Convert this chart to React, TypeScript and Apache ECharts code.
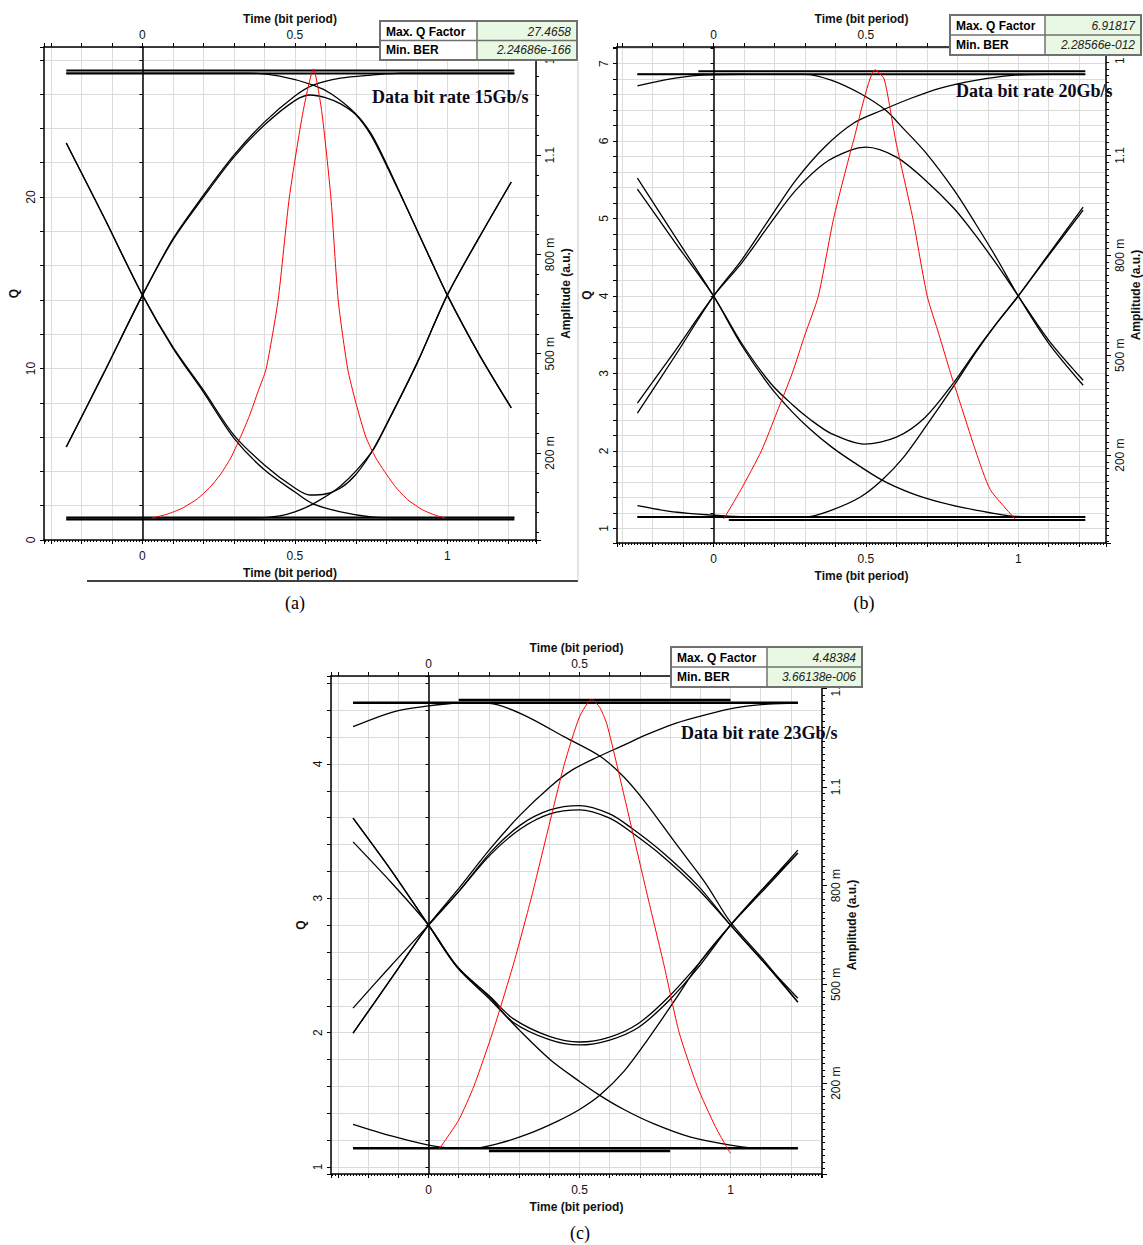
import React, { useEffect, useRef } from "react";
import * as echarts from "echarts";

// ---------------- Texts ----------------
const captions = ["(a)", "(b)", "(c)"];
const rateLabels = ["Data bit rate 15Gb/s", "Data bit rate 20Gb/s", "Data bit rate 23Gb/s"];
const maxQFactor = ["27.4658", "6.91817", "4.48384"];
const minBER = ["2.24686e-166", "2.28566e-012", "3.66138e-006"];
const timeAxisName = "Time (bit period)";
const qAxisName = "Q";
const ampAxisName = "Amplitude (a.u.)";
const timeTickLabelsBottom = [0, 0.5, 1];
const timeTickLabelsTop = [0, 0.5]; // "1" lies under the result table
const ampLabelBase = 0.2; // first labelled amplitude (200 m)
const ampLabelStep = 0.3; // 200 m, 500 m, 800 m, 1.1, 1.4

// ---------------- Panel (a): 15 Gb/s ----------------
const qA_time = [0.03, 0.08, 0.13, 0.18, 0.22, 0.255, 0.29, 0.319, 0.35, 0.38, 0.406, 0.445, 0.482, 0.527, 0.561, 0.588, 0.618, 0.642, 0.673, 0.7, 0.733, 0.765, 0.794, 0.83, 0.87, 0.92, 0.96, 0.994];
const qA_value = [1.28, 1.5, 1.85, 2.4, 3.05, 3.8, 4.8, 5.9, 7.2, 8.7, 10.0, 14.0, 20.0, 25.0, 27.47, 25.0, 20.0, 14.0, 10.0, 8.0, 6.0, 4.8, 4.0, 3.1, 2.35, 1.75, 1.45, 1.28];

const eyeA_111a = [[-0.25, 1.356], [1.22, 1.356]];
const eyeA_111b = [[-0.25, 1.347], [1.22, 1.347]];
const eyeA_000a = [[-0.25, 0.005], [1.22, 0.005]];
const eyeA_000b = [[-0.25, -0.001], [1.22, -0.001]];
const eyeA_100 = [[-0.25, 1.137], [-0.125, 0.91], [0, 0.677], [0.1, 0.517], [0.2, 0.384], [0.3, 0.245], [0.4, 0.149], [0.5, 0.082], [0.56, 0.046], [0.65, 0.022], [0.75, 0.007], [0.85, 0.004], [1.22, 0.004]];
const eyeA_101 = [[-0.25, 1.137], [-0.125, 0.91], [0, 0.677], [0.1, 0.52], [0.2, 0.39], [0.3, 0.254], [0.4, 0.164], [0.5, 0.094], [0.55, 0.073], [0.6, 0.076], [0.65, 0.094], [0.7, 0.135], [0.75, 0.2], [0.8, 0.285], [0.9, 0.47], [1.0, 0.677], [1.1, 0.844], [1.21, 1.019]];
const eyeA_001 = [[-0.25, 0.004], [0.38, 0.004], [0.45, 0.01], [0.5, 0.022], [0.56, 0.046], [0.65, 0.1], [0.75, 0.2], [0.8, 0.285], [0.9, 0.47], [1.0, 0.677], [1.1, 0.844], [1.21, 1.019]];
const eyeA_010 = [[-0.25, 0.218], [-0.125, 0.445], [0, 0.677], [0.1, 0.844], [0.2, 0.973], [0.3, 1.094], [0.4, 1.191], [0.5, 1.265], [0.55, 1.282], [0.6, 1.274], [0.65, 1.255], [0.7, 1.222], [0.75, 1.16], [0.8, 1.07], [0.87, 0.935], [0.94, 0.795], [1.0, 0.677], [1.1, 0.505], [1.21, 0.336]];
const eyeA_011 = [[-0.25, 0.218], [-0.125, 0.445], [0, 0.677], [0.1, 0.847], [0.2, 0.979], [0.3, 1.1], [0.4, 1.2], [0.5, 1.279], [0.56, 1.312], [0.65, 1.333], [0.75, 1.342], [0.85, 1.348], [1.22, 1.348]];
const eyeA_110 = [[-0.25, 1.348], [0.35, 1.348], [0.45, 1.339], [0.56, 1.312], [0.62, 1.285], [0.7, 1.225], [0.75, 1.165], [0.8, 1.075], [0.87, 0.935], [0.94, 0.795], [1.0, 0.677], [1.1, 0.505], [1.21, 0.336]];

// ---------------- Panel (b): 20 Gb/s ----------------
const qB_time = [0.033, 0.09, 0.157, 0.208, 0.258, 0.3, 0.344, 0.394, 0.459, 0.53, 0.56, 0.598, 0.654, 0.701, 0.74, 0.778, 0.819, 0.86, 0.908, 0.99];
const qB_value = [1.12, 1.5, 2.0, 2.5, 3.0, 3.5, 4.0, 5.0, 6.0, 6.92, 6.8, 6.0, 5.0, 4.0, 3.5, 3.0, 2.5, 2.0, 1.5, 1.12];

const eyeB_111a = [[-0.25, 1.344], [1.22, 1.344]];
const eyeB_111b = [[-0.05, 1.353], [1.22, 1.353]];
const eyeB_x11 = [[-0.25, 1.309], [-0.15, 1.329], [-0.05, 1.341], [0.1, 1.344]];
const eyeB_000a = [[-0.25, 0.014], [1.22, 0.014]];
const eyeB_000b = [[0.05, 0.005], [1.22, 0.005]];
const eyeB_x00 = [[-0.25, 0.048], [-0.15, 0.032], [-0.05, 0.023], [0.05, 0.017], [0.15, 0.014]];
const eyeB_100 = [[-0.25, 1.032], [-0.125, 0.855], [0, 0.678], [0.092, 0.53], [0.187, 0.404], [0.258, 0.33], [0.317, 0.278], [0.388, 0.224], [0.459, 0.179], [0.553, 0.125], [0.648, 0.086], [0.742, 0.059], [0.86, 0.035], [0.98, 0.017], [1.1, 0.014], [1.22, 0.014]];
const eyeB_101 = [[-0.25, 0.999], [-0.125, 0.837], [0, 0.678], [0.092, 0.536], [0.187, 0.416], [0.258, 0.352], [0.317, 0.307], [0.388, 0.264], [0.494, 0.233], [0.6, 0.254], [0.695, 0.314], [0.79, 0.42], [0.86, 0.512], [0.93, 0.597], [1.0, 0.678], [1.1, 0.804], [1.213, 0.945]];
const eyeB_001 = [[-0.25, 0.014], [0.3, 0.014], [0.388, 0.035], [0.482, 0.074], [0.553, 0.125], [0.624, 0.194], [0.695, 0.284], [0.79, 0.41], [0.86, 0.508], [0.93, 0.597], [1.0, 0.678], [1.1, 0.8], [1.213, 0.936]];
const eyeB_010 = [[-0.25, 0.356], [-0.125, 0.515], [0, 0.678], [0.092, 0.777], [0.187, 0.897], [0.27, 0.996], [0.364, 1.077], [0.45, 1.116], [0.5, 1.125], [0.6, 1.095], [0.695, 1.026], [0.79, 0.94], [0.86, 0.86], [0.93, 0.772], [1.0, 0.678], [1.1, 0.545], [1.213, 0.425]];
const eyeB_011 = [[-0.25, 0.326], [-0.125, 0.5], [0, 0.678], [0.092, 0.786], [0.187, 0.915], [0.27, 1.026], [0.364, 1.125], [0.459, 1.197], [0.553, 1.236], [0.648, 1.272], [0.742, 1.302], [0.86, 1.326], [0.98, 1.341], [1.1, 1.344], [1.22, 1.344]];
const eyeB_110 = [[-0.25, 1.344], [0.3, 1.344], [0.388, 1.326], [0.48, 1.287], [0.565, 1.236], [0.624, 1.18], [0.695, 1.11], [0.79, 0.995], [0.86, 0.895], [0.93, 0.79], [1.0, 0.678], [1.1, 0.536], [1.213, 0.41]];

// ---------------- Panel (c): 23 Gb/s ----------------
const qC_time = [0.034, 0.1, 0.15, 0.212, 0.28, 0.34, 0.4, 0.45, 0.5, 0.54, 0.567, 0.59, 0.623, 0.675, 0.727, 0.78, 0.83, 0.89, 0.95, 1.0];
const qC_value = [1.13, 1.35, 1.6, 2.0, 2.5, 3.0, 3.55, 4.0, 4.35, 4.48, 4.42, 4.3, 4.0, 3.5, 3.0, 2.5, 2.0, 1.6, 1.3, 1.1];

const eyeC_111a = [[-0.25, 1.356], [1.223, 1.356]];
const eyeC_111b = [[0.1, 1.364], [1.0, 1.364]];
const eyeC_x11 = [[-0.25, 1.283], [-0.113, 1.329], [0, 1.346], [0.1, 1.355], [0.2, 1.356]];
const eyeC_000a = [[-0.25, 0.002], [1.223, 0.002]];
const eyeC_000b = [[0.2, -0.006], [0.8, -0.006]];
const eyeC_x00 = [[-0.25, 0.075], [-0.12, 0.039], [0, 0.012], [0.1, 0.002], [0.2, 0.002]];
const eyeC_100 = [[-0.25, 1.005], [-0.125, 0.848], [0, 0.68], [0.096, 0.55], [0.206, 0.452], [0.304, 0.358], [0.402, 0.272], [0.5, 0.205], [0.567, 0.163], [0.647, 0.12], [0.745, 0.077], [0.868, 0.036], [1.0, 0.012], [1.1, 0.002], [1.223, 0.002]];
const eyeC_101a = [[-0.25, 1.005], [-0.125, 0.848], [0, 0.68], [0.096, 0.553], [0.206, 0.461], [0.28, 0.396], [0.4, 0.342], [0.5, 0.325], [0.6, 0.34], [0.696, 0.382], [0.794, 0.461], [0.892, 0.56], [1.0, 0.68], [1.11, 0.793], [1.223, 0.908]];
const eyeC_101b = [[-0.25, 0.933], [-0.125, 0.811], [0, 0.68], [0.096, 0.553], [0.206, 0.458], [0.28, 0.385], [0.4, 0.332], [0.5, 0.316], [0.6, 0.331], [0.696, 0.37], [0.794, 0.449], [0.892, 0.55], [1.0, 0.68], [1.11, 0.793], [1.223, 0.899]];
const eyeC_001 = [[-0.25, 0.002], [0.15, 0.002], [0.23, 0.016], [0.328, 0.045], [0.426, 0.084], [0.5, 0.12], [0.567, 0.163], [0.647, 0.236], [0.72, 0.325], [0.818, 0.455], [0.904, 0.574], [1.0, 0.68], [1.11, 0.787], [1.223, 0.899]];
const eyeC_010a = [[-0.25, 0.428], [-0.125, 0.556], [0, 0.68], [0.096, 0.778], [0.206, 0.902], [0.304, 0.984], [0.402, 1.03], [0.5, 1.043], [0.6, 1.018], [0.672, 0.975], [0.77, 0.905], [0.892, 0.8], [1.0, 0.68], [1.11, 0.568], [1.223, 0.458]];
const eyeC_010b = [[-0.25, 0.352], [-0.125, 0.516], [0, 0.68], [0.096, 0.778], [0.206, 0.895], [0.304, 0.972], [0.402, 1.018], [0.5, 1.03], [0.6, 1.005], [0.672, 0.962], [0.77, 0.893], [0.892, 0.79], [1.0, 0.68], [1.11, 0.568], [1.223, 0.446]];
const eyeC_011 = [[-0.25, 0.352], [-0.125, 0.516], [0, 0.68], [0.096, 0.787], [0.206, 0.914], [0.304, 1.015], [0.402, 1.1], [0.475, 1.151], [0.56, 1.191], [0.647, 1.227], [0.72, 1.258], [0.82, 1.294], [0.917, 1.319], [1.015, 1.34], [1.125, 1.352], [1.223, 1.355]];
const eyeC_110 = [[-0.25, 1.356], [0.15, 1.356], [0.23, 1.349], [0.328, 1.313], [0.45, 1.252], [0.567, 1.194], [0.647, 1.13], [0.72, 1.051], [0.818, 0.929], [0.917, 0.808], [1.0, 0.689], [1.11, 0.574], [1.223, 0.446]];

const qTimes = [qA_time, qB_time, qC_time];
const qValues = [qA_value, qB_value, qC_value];
const eyeRails = [
  [eyeA_111a, eyeA_111b, eyeA_000a, eyeA_000b],
  [eyeB_111a, eyeB_111b, eyeB_000a, eyeB_000b],
  [eyeC_111a, eyeC_111b, eyeC_000a, eyeC_000b],
];
const eyeTraces = [
  [eyeA_100, eyeA_101, eyeA_001, eyeA_010, eyeA_011, eyeA_110],
  [eyeB_x11, eyeB_x00, eyeB_100, eyeB_101, eyeB_001, eyeB_010, eyeB_011, eyeB_110],
  [eyeC_x11, eyeC_x00, eyeC_100, eyeC_101a, eyeC_101b, eyeC_001, eyeC_010a, eyeC_010b, eyeC_011, eyeC_110],
];

// ---------------- Layout (positions / axis extents) ----------------
const layout = [
  { left: 44, top: 47, right: 536, bottom: 540, tMin: -0.323, tMax: 1.291, qMin: 0, qMax: 28.75, qStep: 2, qLabelStep: 10, ampMin: -0.063, ampMax: 1.427, ampMinor: 5, railWidth: 2,
    table: { x: 380, y: 21, w: 197, h: 39, col: 477 }, title: { x: 372, y: 97 }, caption: { x: 295, y: 603 } },
  { left: 617, top: 47, right: 1106, bottom: 543, tMin: -0.317, tMax: 1.288, qMin: 0.81, qMax: 7.214, qStep: 0.2, qLabelStep: 1, ampMin: -0.064, ampMax: 1.426, ampMinor: 15, railWidth: 2,
    table: { x: 950, y: 15, w: 191, h: 40, col: 1045 }, title: { x: 956, y: 91 }, caption: { x: 864, y: 603 } },
  { left: 331, top: 676, right: 822, bottom: 1174, tMin: -0.323, tMax: 1.303, qMin: 0.948, qMax: 4.654, qStep: 0.2, qLabelStep: 1, ampMin: -0.076, ampMax: 1.437, ampMinor: 15, railWidth: 2.5,
    table: { x: 671, y: 647, w: 191, h: 40, col: 767 }, title: { x: 681, y: 733 }, caption: { x: 580, y: 1233 } },
];

const SANS = "'Liberation Sans', Arial, sans-serif";
const SERIF = "'Liberation Serif', 'Times New Roman', serif";
const GRID_COLOR = "#dcdcdc";

const isMultiple = (v: number, step: number) => Math.abs(v / step - Math.round(v / step)) < 1e-6;

const timeLabel = (marks: number[]) => (v: number) => {
  for (const m of marks) if (Math.abs(v - m) < 1e-6) return String(m);
  return "";
};

function ampLabel(u: number) {
  if (!isMultiple(u, ampLabelStep)) return "";
  const a = Math.round((u + ampLabelBase) * 10) / 10;
  return a < 1 ? `${Math.round(a * 1000)} m` : String(a);
}

function buildOption() {
  const grid: any[] = [];
  const xAxis: any[] = [];
  const yAxis: any[] = [];
  const series: any[] = [];
  const graphic: any[] = [];

  const labelStyle = { color: "#111", fontSize: 12, fontFamily: SANS };
  const nameStyle = { color: "#111", fontSize: 12, fontWeight: "bold", fontFamily: SANS };

  layout.forEach((p, g) => {
    grid.push({ left: p.left, top: p.top, width: p.right - p.left, height: p.bottom - p.top, containLabel: false, outerBoundsMode: "none" });

    const xCommon = {
      type: "value", gridIndex: g, min: p.tMin, max: p.tMax, minInterval: 0.1, maxInterval: 0.1,
      axisLine: { show: true, onZero: false, lineStyle: { color: "#000", width: 1.5 } },
      axisTick: { show: true, length: 4, lineStyle: { color: "#000" } },
      name: timeAxisName, nameLocation: "middle", nameTextStyle: nameStyle,
    };
    xAxis.push({ ...xCommon, position: "bottom",
      axisLabel: { show: true, formatter: timeLabel(timeTickLabelsBottom), ...labelStyle, hideOverlap: false, margin: 10 }, nameGap: 27,
      minorTick: { show: true, splitNumber: 10, length: 2, lineStyle: { color: "#000" } },
      splitLine: { show: true, lineStyle: { color: GRID_COLOR, width: 1 } } });
    xAxis.push({ ...xCommon, position: "top",
      axisLabel: { show: true, formatter: timeLabel(timeTickLabelsTop), ...labelStyle, hideOverlap: false, margin: 6 }, nameGap: 22,
      splitLine: { show: false } });

    // Q axis (left frame)
    yAxis.push({
      type: "value", gridIndex: g, position: "left", min: p.qMin, max: p.qMax, minInterval: p.qStep, maxInterval: p.qStep,
      axisLine: { show: true, onZero: false, lineStyle: { color: "#000", width: 1.5 } },
      axisTick: { show: true, length: 4, lineStyle: { color: "#000" } },
      axisLabel: { show: true, rotate: 90, margin: 7, ...labelStyle, hideOverlap: false,
        formatter: (v: number) => (isMultiple(v, p.qLabelStep) ? String(Math.round(v)) : "") },
      splitLine: { show: true, lineStyle: { color: GRID_COLOR, width: 1 } },
      name: qAxisName, nameLocation: "middle", nameGap: 24, nameRotate: 90, nameTextStyle: nameStyle,
    });
    // Q axis drawn at t = 0
    yAxis.push({
      type: "value", gridIndex: g, position: "left", min: p.qMin, max: p.qMax, minInterval: p.qStep, maxInterval: p.qStep,
      axisLine: { show: true, onZero: true, lineStyle: { color: "#000", width: 1.5 } },
      axisTick: { show: true, length: 3, lineStyle: { color: "#000" } },
      axisLabel: { show: false }, splitLine: { show: false },
    });
    // amplitude data axis (hidden)
    yAxis.push({ type: "value", gridIndex: g, position: "right", min: p.ampMin, max: p.ampMax, show: false,
      axisLine: { onZero: false }, splitLine: { show: false } });
    // amplitude axis for ticks/labels (offset by label base so ticks land on 200 m, 500 m, ...)
    yAxis.push({
      type: "value", gridIndex: g, position: "right", min: p.ampMin - ampLabelBase, max: p.ampMax - ampLabelBase,
      minInterval: ampLabelStep, maxInterval: ampLabelStep,
      axisLine: { show: true, onZero: false, lineStyle: { color: "#000", width: 1.5 } },
      axisTick: { show: true, length: 5, lineStyle: { color: "#000" } },
      minorTick: { show: true, splitNumber: p.ampMinor, length: 3, lineStyle: { color: "#000" } },
      axisLabel: { show: true, rotate: 90, margin: 8, formatter: ampLabel, ...labelStyle, hideOverlap: false },
      splitLine: { show: false },
      name: ampAxisName, nameLocation: "middle", nameGap: 24, nameRotate: 90, nameTextStyle: nameStyle,
    });

    const xi = 2 * g;
    const yQ = 4 * g;
    const yAmp = 4 * g + 2;

    eyeRails[g].forEach((tr) => {
      series.push({ type: "line", xAxisIndex: xi, yAxisIndex: yAmp, data: tr, symbol: "none", silent: true,
        lineStyle: { color: "#000", width: p.railWidth }, z: 2 });
    });
    eyeTraces[g].forEach((tr) => {
      series.push({ type: "line", xAxisIndex: xi, yAxisIndex: yAmp, data: tr, symbol: "none", silent: true, smooth: 0.3,
        lineStyle: { color: "#000", width: 1.3 }, z: 2 });
    });
    series.push({ type: "line", xAxisIndex: xi, yAxisIndex: yQ, data: qTimes[g].map((t, i) => [t, qValues[g][i]]),
      symbol: "none", silent: true, smooth: 0.2, lineStyle: { color: "#ff0000", width: 1 }, z: 4 });

    // result table
    const tb = p.table;
    const midY = tb.y + tb.h / 2;
    graphic.push(
      { type: "rect", z: 100, shape: { x: tb.x, y: tb.y, width: tb.w, height: tb.h }, style: { fill: "#ffffff", stroke: "#707070", lineWidth: 2 } },
      { type: "rect", z: 101, shape: { x: tb.col, y: tb.y + 1, width: tb.x + tb.w - tb.col - 1, height: tb.h - 2 }, style: { fill: "#e9f8e3" } },
      { type: "line", z: 102, shape: { x1: tb.x, y1: midY, x2: tb.x + tb.w, y2: midY }, style: { stroke: "#707070", lineWidth: 1.5 } },
      { type: "line", z: 102, shape: { x1: tb.col, y1: tb.y, x2: tb.col, y2: tb.y + tb.h }, style: { stroke: "#707070", lineWidth: 1.5 } },
      { type: "text", z: 103, x: tb.x + 6, y: tb.y + tb.h / 4 + 1, style: { text: "Max. Q Factor", font: `bold 12px ${SANS}`, fill: "#000", textAlign: "left", textVerticalAlign: "middle" } },
      { type: "text", z: 103, x: tb.x + 6, y: tb.y + (3 * tb.h) / 4, style: { text: "Min. BER", font: `bold 12px ${SANS}`, fill: "#000", textAlign: "left", textVerticalAlign: "middle" } },
      { type: "text", z: 103, x: tb.x + tb.w - 6, y: tb.y + tb.h / 4 + 1, style: { text: maxQFactor[g], font: `italic 12px ${SANS}`, fill: "#222", textAlign: "right", textVerticalAlign: "middle" } },
      { type: "text", z: 103, x: tb.x + tb.w - 6, y: tb.y + (3 * tb.h) / 4, style: { text: minBER[g], font: `italic 12px ${SANS}`, fill: "#222", textAlign: "right", textVerticalAlign: "middle" } },
      { type: "text", z: 103, x: p.title.x, y: p.title.y, style: { text: rateLabels[g], font: `bold 18px ${SERIF}`, fill: "#0b0b20", textAlign: "left", textVerticalAlign: "middle" } },
      { type: "text", z: 103, x: p.caption.x, y: p.caption.y, style: { text: captions[g], font: `18px ${SERIF}`, fill: "#000", textAlign: "center", textVerticalAlign: "middle" } },
    );
  });

  // frame remnants of the original screenshot around panel (a)
  graphic.push(
    { type: "line", z: 100, shape: { x1: 87, y1: 581, x2: 578, y2: 581 }, style: { stroke: "#000", lineWidth: 1.5 } },
    { type: "line", z: 100, shape: { x1: 578, y1: 62, x2: 578, y2: 581 }, style: { stroke: "#c8c8c8", lineWidth: 1 } },
  );

  return { animation: false, backgroundColor: "#ffffff", grid, xAxis, yAxis, series, graphic };
}

export default function App() {
  const ref = useRef<HTMLDivElement>(null);
  useEffect(() => {
    document.body.style.margin = "0";
    const chart = echarts.init(ref.current as HTMLDivElement, null, { renderer: "svg" });
    chart.setOption(buildOption() as any);
    return () => chart.dispose();
  }, []);
  return <div ref={ref} style={{ width: 1143, height: 1245 }} />;
}
